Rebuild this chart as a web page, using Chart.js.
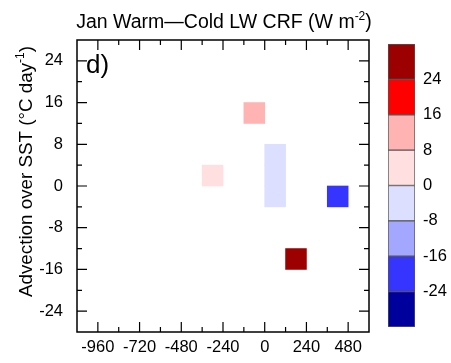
<!DOCTYPE html>
<html>
<head>
<meta charset="utf-8">
<title>Jan Warm-Cold LW CRF</title>
<script src="https://cdn.jsdelivr.net/npm/chart.js@4.4.1/dist/chart.umd.min.js"></script>
<style>
  body { margin: 0; background: #fff; }
  #wrap { position: relative; width: 451px; height: 363px; }
  #cbar { position: absolute; left: 388px; top: 44px; }
</style>
</head>
<body>
<div id="wrap">
  <canvas id="crfChart" width="451" height="363"></canvas>
  <canvas id="cbar" width="63" height="300"></canvas>
</div>
<script>
'use strict';

/// DATA
// binned cells: centre on x, centre on y (advection over SST), composite LW CRF value
let cellX = [-60, -300, 60, 60, 60, 420, 180];
let cellY = [14, 2, 6, 2, -2, -2, -14];
let cellCRF = [11, 3, -3, -2, -3, -20, 27];
let cellHalfHeight = 2;

// contour levels and fill colours (one more colour than levels)
let levels = [-24, -16, -8, 0, 8, 16, 24];
let levelColors = ['#00009c', '#3535ff', '#a3a7ff', '#dcdfff', '#ffdfdf', '#ffb3b3', '#ff0000', '#9c0000'];

// tick labels
let xTicks = [-960, -720, -480, -240, 0, 240, 480];
let yTicks = [-24, -16, -8, 0, 8, 16, 24];

const FONT = '"Liberation Sans", Arial, Helvetica, sans-serif';
const TICK_SIZE = 16.5;
Chart.defaults.color = '#000';
Chart.defaults.font.family = FONT;

// HELPERS
function colorFor(v) {
  for (let i = 0; i < levels.length; i++) {
    if (v < levels[i]) return levelColors[i];
  }
  return levelColors[levels.length];
}

function midpoints(arr) {
  let out = [];
  for (let i = 1; i < arr.length; i++) out.push((arr[i - 1] + arr[i]) / 2);
  return out;
}

// text with a superscript part, parts = [[text, isSup], ...]
function drawSupText(ctx, parts, x, y, size, align) {
  let supSize = Math.round(size * 0.62);
  let widths = parts.map(p => {
    ctx.font = (p[1] ? supSize : size) + 'px ' + FONT;
    return ctx.measureText(p[0]).width;
  });
  let total = widths.reduce((a, b) => a + b, 0);
  let cx = align === 'center' ? x - total / 2 : x;
  ctx.textAlign = 'left';
  ctx.textBaseline = 'alphabetic';
  parts.forEach((p, i) => {
    ctx.font = (p[1] ? supSize : size) + 'px ' + FONT;
    ctx.fillText(p[0], cx, p[1] ? y - size * 0.42 : y);
    cx += widths[i];
  });
}

// frame, inward ticks, titles
const framePlugin = {
  id: 'frame',
  afterDraw(chart) {
    const { ctx, chartArea: a, scales: { x, y } } = chart;
    ctx.save();
    ctx.strokeStyle = '#000';
    ctx.fillStyle = '#000';
    ctx.lineWidth = 1.5;
    ctx.strokeRect(a.left, a.top, a.right - a.left, a.bottom - a.top);

    ctx.beginPath();
    let xMarks = xTicks.map(v => [v, 10]).concat(midpoints(xTicks).map(v => [v, 5]));
    xMarks.forEach(([v, len]) => {
      let px = x.getPixelForValue(v);
      ctx.moveTo(px, a.bottom); ctx.lineTo(px, a.bottom - len);
      ctx.moveTo(px, a.top); ctx.lineTo(px, a.top + len);
    });
    let yMarks = yTicks.map(v => [v, 10]).concat(midpoints(yTicks).map(v => [v, 5]));
    yMarks.forEach(([v, len]) => {
      let py = y.getPixelForValue(v);
      ctx.moveTo(a.left, py); ctx.lineTo(a.left + len, py);
      ctx.moveTo(a.right, py); ctx.lineTo(a.right - len, py);
    });
    ctx.lineWidth = 1.2;
    ctx.stroke();

    // title
    drawSupText(ctx, [['Jan Warm\u2014Cold LW CRF (W m', false], ['-2', true], [')', false]],
      (a.left + a.right) / 2 + 1, 28, 19.5, 'center');

    // panel letter
    ctx.font = '26px ' + FONT;
    ctx.textAlign = 'left';
    ctx.fillText('d)', a.left + 9, a.top + 33);

    // y axis title
    ctx.translate(32, 297);
    ctx.rotate(-Math.PI / 2);
    drawSupText(ctx, [['Advection over SST (\u00b0C day', false], ['-1', true], [')', false]], 0, 0, 18.8, 'left');
    ctx.restore();
  }
};

// MAIN CHART
let cellData = cellX.map((cx, i) => ({ x: cx, y: [cellY[i] - cellHalfHeight, cellY[i] + cellHalfHeight] }));

new Chart(document.getElementById('crfChart'), {
  type: 'bar',
  data: {
    datasets: [{
      data: cellData,
      backgroundColor: c => colorFor(cellCRF[c.dataIndex]),
      borderWidth: 0,
      categoryPercentage: 1,
      barPercentage: 1
    }]
  },
  options: {
    responsive: false,
    animation: false,
    layout: { padding: { top: 40, right: 82, left: 0, bottom: 0 } },
    plugins: { legend: { display: false }, tooltip: { enabled: false } },
    scales: {
      x: {
        type: 'linear',
        min: -1080,
        max: 600,
        offset: false,
        grid: { display: false, drawTicks: false },
        border: { display: false },
        ticks: { font: { size: TICK_SIZE }, padding: 6, autoSkip: false, maxRotation: 0 },
        afterBuildTicks: s => { s.ticks = xTicks.map(v => ({ value: v })); },
        afterFit: s => { s.height = 31; }
      },
      y: {
        min: -28,
        max: 28,
        grid: { display: false, drawTicks: false },
        border: { display: false },
        ticks: { font: { size: TICK_SIZE }, padding: 14, autoSkip: false },
        afterBuildTicks: s => { s.ticks = yTicks.map(v => ({ value: v })); },
        afterFit: s => { s.width = 77; }
      }
    }
  },
  plugins: [framePlugin]
});

// COLOUR BAR
let bounds = [-32].concat(levels, [32]);

new Chart(document.getElementById('cbar'), {
  type: 'bar',
  data: {
    labels: [''],
    datasets: levelColors.map((col, i) => ({
      data: [[bounds[i], bounds[i + 1]]],
      backgroundColor: col,
      borderColor: '#555',
      borderWidth: 1,
      borderSkipped: false,
      grouped: false,
      categoryPercentage: 1,
      barPercentage: 1
    }))
  },
  options: {
    responsive: false,
    animation: false,
    layout: { padding: { top: 0, right: 0, left: 0, bottom: 17 } },
    plugins: { legend: { display: false }, tooltip: { enabled: false } },
    scales: {
      x: { display: false },
      y: {
        position: 'right',
        min: -32,
        max: 32,
        grid: { display: false, drawTicks: false },
        border: { display: false },
        ticks: { font: { size: TICK_SIZE }, padding: 8, autoSkip: false },
        afterBuildTicks: s => { s.ticks = levels.map(v => ({ value: v })); },
        afterFit: s => { s.width = 36; s.paddingTop = 0; s.paddingBottom = 0; }
      }
    }
  }
});
</script>
</body>
</html>
